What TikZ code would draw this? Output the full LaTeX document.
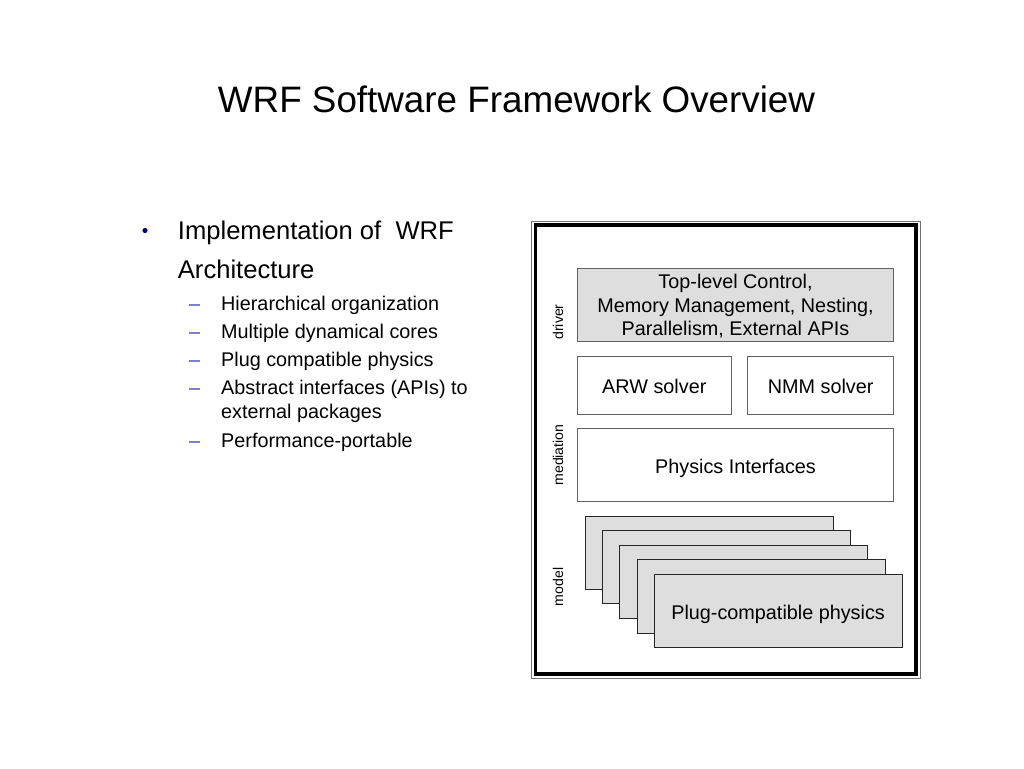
\documentclass[tikz,border=0pt]{standalone}
\usepackage{fontspec}
\setmainfont{Liberation Sans}
\usetikzlibrary{positioning}
\newcommand{\boxfill}{black!13}
\newcommand{\boxedge}{black!62}
\newcommand{\stackedge}{black!85}
\newcommand{\bulletblue}{blue!55!black}
\newcommand{\dashblue}{blue!60!black!75}
\tikzset{
  layer/.style={draw=\boxedge, line width=1pt, inner sep=0pt, outer sep=0pt, align=center, text height=16pt, text depth=0pt, font=\fontsize{19.8}{23.6}\selectfont},
  plug/.style={draw=\stackedge, fill=\boxfill, line width=1pt, minimum width=248pt, minimum height=73.2pt, inner sep=0pt, outer sep=0pt, text height=16pt, text depth=0pt, font=\fontsize{19.8}{23.6}\selectfont},
  tag/.style={rotate=90, inner sep=0pt, font=\fontsize{14.1}{16}\selectfont},
  head/.style={anchor=base west, inner sep=0pt, font=\fontsize{25.6}{30}\selectfont},
  item/.style={anchor=base west, inner sep=0pt, font=\fontsize{19.8}{23}\selectfont},
}
\begin{document}
\begin{tikzpicture}[x=1pt,y=-1pt]
\useasboundingbox (0,0) rectangle (1024,768);
\fill[white] (0,0) rectangle (1024,768);
% title
\node[anchor=base, inner sep=0pt, font=\fontsize{36.8}{44}\selectfont] (title) at (516.5,112) {WRF Software Framework Overview};
% bullet list
\fill[\bulletblue] (145,230.5) circle (2.6);
\node[head] (impl) at (177.7,239.3) {Implementation of \ WRF};
\node[head] (arch) at (177.7,278.7) {Architecture};
\node[item, text=\dashblue] (d1) at (189,310.5) {–};
\node[item, text=\dashblue] (d2) at (189,338.2) {–};
\node[item, text=\dashblue] (d3) at (189,366.5) {–};
\node[item, text=\dashblue] (d4) at (189,394.8) {–};
\node[item, text=\dashblue] (d5) at (189,447.2) {–};
\node[item] (i1) at (221,310.5) {Hierarchical organization};
\node[item] (i2) at (221,338.2) {Multiple dynamical cores};
\node[item] (i3) at (221,366.5) {Plug compatible physics};
\node[item] (i4) at (221,394.8) {Abstract interfaces (APIs) to};
\node[item] (i4b) at (221,418.2) {external packages};
\node[item] (i5) at (221,447.2) {Performance-portable};
% frame
\draw[black!55, line width=1pt] (531.5,221) rectangle (920,678.5);
\draw[black, line width=3.5pt] (535.5,225) rectangle (916,674);
% layers
\node[layer, fill=\boxfill, text height=, minimum width=316.4pt, minimum height=73.4pt] (top) at (735.5,305) {Top-level Control,\\Memory Management, Nesting,\\Parallelism, External APIs};
\node[layer, minimum width=154pt, minimum height=58.3pt] (arw) at (654.3,385.2) {ARW solver};
\node[layer, minimum width=146pt, minimum height=58.3pt] (nmm) at (820.7,385.2) {NMM solver};
\node[layer, minimum width=316.4pt, minimum height=72.7pt] (phys) at (735.5,465.3) {Physics Interfaces};
\node[plug] (1) at (709.7,552.6) {};
\node[plug] (2) at (726.8,567.2) {};
\node[plug] (3) at (743.9,581.8) {};
\node[plug] (4) at (761.0,596.4) {};
\node[plug] (5) at (778.1,611.0) {Plug-compatible physics};
% side labels
\node[tag] (driver) at (558,322) {driver};
\node[tag] (mediation) at (558,455) {mediation};
\node[tag] (model) at (558,587) {model};
\end{tikzpicture}
\end{document}
